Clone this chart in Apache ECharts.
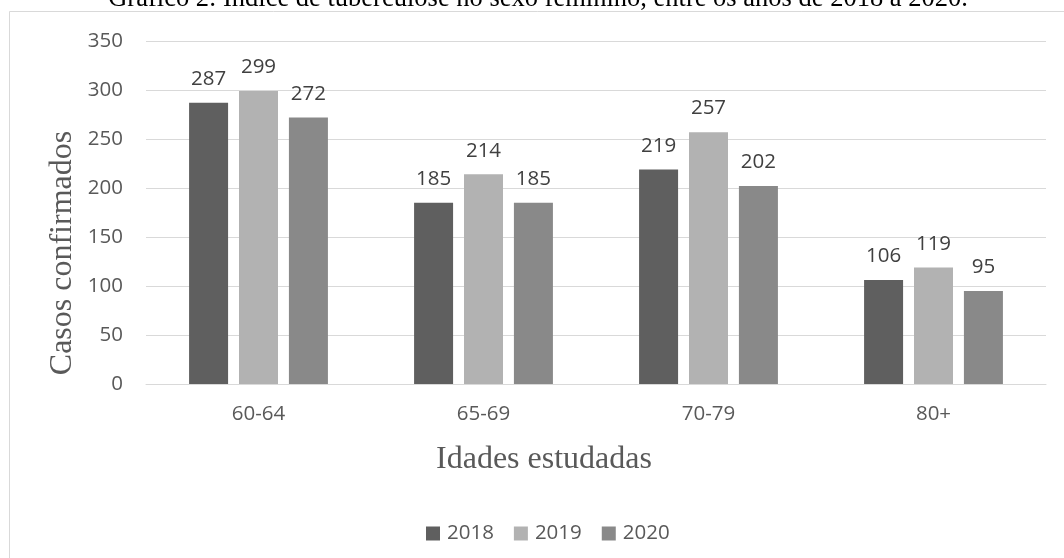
<!DOCTYPE html>
<html>
<head>
<meta charset="utf-8">
<script src="https://cdn.jsdelivr.net/npm/echarts@6/dist/echarts.min.js"></script>
<style>
  html, body { margin: 0; padding: 0; background: #ffffff; }
  #chart { width: 1064px; height: 558px; }
</style>
</head>
<body>
<div id="chart"></div>
<script>
// Age groups and confirmed cases per year
const categories = ['60-64', '65-69', '70-79', '80+'];
const years = ['2018', '2019', '2020'];
const cases2018 = [287, 185, 219, 106];
const cases2019 = [299, 214, 257, 119];
const cases2020 = [272, 185, 202, 95];
const yTicks = [0, 50, 100, 150, 200, 250, 300, 350];

const colors = ['#5f5f5f', '#b2b2b2', '#898989'];
const sansFont = '"Open Sans", Lato, sans-serif';
const serifFont = '"Liberation Serif", "DejaVu Serif", serif';

const seriesData = [cases2018, cases2019, cases2020];

const chart = echarts.init(document.getElementById('chart'), null, { renderer: 'canvas' });

chart.setOption({
  backgroundColor: '#ffffff',
  animation: false,
  graphic: [
    {
      type: 'rect', z: -1, silent: true,
      shape: { x: 9.5, y: 11.5, width: 1100, height: 600 },
      style: { fill: 'none', stroke: '#d9d9d9', lineWidth: 1 }
    },
    {
      // chart caption, partly above the top edge
      type: 'text', silent: true,
      x: 538, y: -14,
      style: {
        text: 'Gráfico 2: Índice de tuberculose no sexo feminino, entre os anos de 2018 a 2020.',
        font: '26.5px ' + serifFont,
        fill: '#000000',
        align: 'center', verticalAlign: 'top'
      }
    },
    {
      // y-axis title
      type: 'text', silent: true,
      x: 63, y: 253, rotation: Math.PI / 2,
      style: {
        text: 'Casos confirmados',
        font: '32px ' + serifFont,
        fill: '#595959',
        align: 'center', verticalAlign: 'middle'
      }
    },
    {
      // x-axis title
      type: 'text', silent: true,
      x: 544, y: 444,
      style: {
        text: 'Idades estudadas',
        font: '32px ' + serifFont,
        fill: '#595959',
        align: 'center', verticalAlign: 'top'
      }
    }
  ],
  legend: {
    data: years,
    left: 426, top: 523, padding: 0,
    itemWidth: 14, itemHeight: 14, itemGap: 20,
    icon: 'rect',
    textStyle: { fontFamily: sansFont, fontSize: 20.5, color: '#595959', padding: [0, 0, 0, 2] }
  },
  grid: { left: 146, right: 18, top: 41, bottom: 174, containLabel: false },
  xAxis: {
    type: 'category',
    data: categories,
    axisLine: { show: true, lineStyle: { color: '#d9d9d9', width: 1 } },
    axisTick: { show: false },
    axisLabel: { fontFamily: sansFont, fontSize: 20.5, color: '#595959', margin: 20 }
  },
  yAxis: {
    type: 'value',
    min: yTicks[0], max: yTicks[yTicks.length - 1], interval: 50,
    axisLine: { show: false },
    axisTick: { show: false },
    splitLine: { lineStyle: { color: '#d9d9d9', width: 1 } },
    axisLabel: { fontFamily: sansFont, fontSize: 20.5, color: '#595959', margin: 23 }
  },
  series: years.map((y, i) => ({
    name: y,
    type: 'bar',
    data: seriesData[i],
    barWidth: 39,
    barGap: '28%',
    itemStyle: { color: colors[i] },
    label: {
      show: true, position: 'top', distance: 13,
      fontFamily: sansFont, fontSize: 20.5, color: '#404040'
    }
  }))
});
</script>
</body>
</html>
